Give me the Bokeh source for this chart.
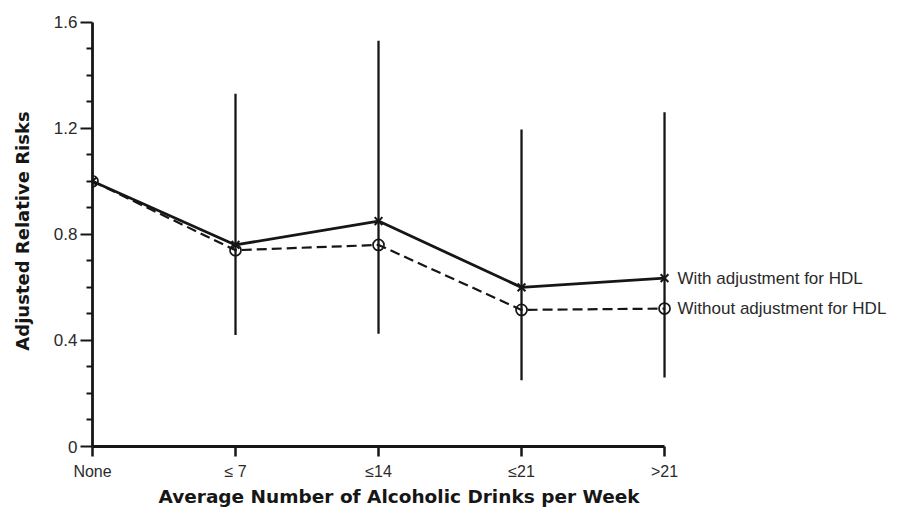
from bokeh.plotting import figure
from bokeh.models import Range1d, FixedTicker, Title
from bokeh.core.properties import value
from bokeh.embed import file_html
from bokeh.resources import INLINE

# ---- data ----
categories = ["None", "≤ 7", "≤14", "≤21", ">21"]
x_pos = [0, 1, 2, 3, 4]
rr_with_hdl = [1.00, 0.76, 0.85, 0.60, 0.635]
rr_without_hdl = [1.00, 0.74, 0.76, 0.515, 0.52]
ci_x = [1, 2, 3, 4]
ci_upper = [1.33, 1.53, 1.195, 1.26]
ci_lower = [0.42, 0.425, 0.25, 0.26]
series_labels = ["With adjustment for HDL", "Without adjustment for HDL"]
label_y = [0.635, 0.52]
y_major = [0, 0.4, 0.8, 1.2, 1.6]
y_major_labels = ["0", "0.4", "0.8", "1.2", "1.6"]
y_minor = [0.1, 0.2, 0.3, 0.5, 0.6, 0.7, 0.9, 1.0, 1.1, 1.3, 1.4, 1.5]
x_title = "Average Number of Alcoholic Drinks per Week"
y_title = "Adjusted Relative Risks"

INK = "#161616"
TEXT = "#2a2a2a"

p = figure(width=904, height=508, output_backend="svg", toolbar_location=None,
           x_range=Range1d(0, 5.678), y_range=Range1d(0, 1.625),
           min_border_left=92, min_border_right=0, min_border_top=15,
           min_border_bottom=60)
p.outline_line_color = None
p.xgrid.visible = False
p.ygrid.visible = False
p.background_fill_color = "white"
p.border_fill_color = "white"

# error bars
p.segment(x0=ci_x, y0=ci_lower, x1=ci_x, y1=ci_upper, line_color=INK, line_width=2.3)

# series lines
p.line(x_pos, rr_without_hdl, line_color=INK, line_width=2.2, line_dash="10 5")
p.line(x_pos, rr_with_hdl, line_color=INK, line_width=2.8)
p.scatter(x_pos, rr_without_hdl, marker="circle", size=11, fill_alpha=0,
          line_color=INK, line_width=1.7)
p.scatter(x_pos, rr_with_hdl, marker="x", size=11, line_color=INK, line_width=2)

# direct labels
p.text(x=[4, 4], y=label_y, text=series_labels, x_offset=13, text_baseline="middle",
       text_align="left", text_font=value("Liberation Sans"), text_font_size="17px",
       text_color=TEXT)

# x axis
xa = p.xaxis[0]
xa.ticker = FixedTicker(ticks=x_pos)
xa.major_label_overrides = {x: c for x, c in zip(x_pos, categories)}
xa.bounds = (0, 4)
xa.axis_line_width = 2.8
xa.axis_line_color = INK
xa.major_tick_line_width = 2.5
xa.major_tick_line_color = INK
xa.major_tick_out = 10
xa.major_tick_in = 0
xa.minor_tick_line_color = None
xa.major_label_text_font = "Liberation Sans"
xa.major_label_text_font_size = "16px"
xa.major_label_text_color = TEXT
xa.major_label_standoff = 6

# x axis title, placed under the drawn span of the axis
p.add_layout(Title(text=x_title, align="left", offset=66, standoff=3,
                   text_font="DejaVu Sans", text_font_style="bold",
                   text_font_size="18.5px", text_color=INK), "below")

# y axis
ya = p.yaxis[0]
ya.ticker = FixedTicker(ticks=y_major, minor_ticks=y_minor)
ya.major_label_overrides = {v: s for v, s in zip(y_major, y_major_labels)}
ya.bounds = (0, 1.6)
ya.axis_line_width = 2.8
ya.axis_line_color = INK
ya.major_tick_line_width = 2
ya.major_tick_line_color = INK
ya.major_tick_out = 12
ya.major_tick_in = 0
ya.minor_tick_line_width = 2
ya.minor_tick_line_color = INK
ya.minor_tick_out = 6
ya.minor_tick_in = 0
ya.major_label_text_font = "Liberation Sans"
ya.major_label_text_font_size = "17px"
ya.major_label_text_color = TEXT
ya.major_label_standoff = 3
ya.axis_label = y_title
ya.axis_label_text_font = "DejaVu Sans"
ya.axis_label_text_font_style = "bold"
ya.axis_label_text_font_size = "18px"
ya.axis_label_text_color = INK
ya.axis_label_standoff = 18

open("out.html", "w").write(file_html(p, INLINE))
